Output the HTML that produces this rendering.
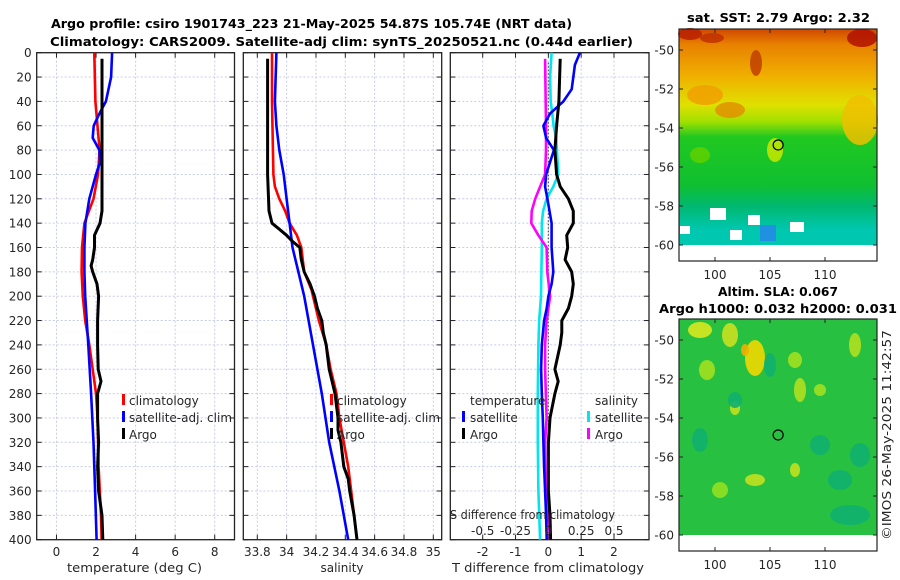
<!DOCTYPE html>
<html><head><meta charset="utf-8"><style>
html,body{margin:0;padding:0;background:#fff;}
svg{display:block;font-family:"DejaVu Sans","Liberation Sans",sans-serif;}
.tk{font-size:12px;fill:#262626;}
.tt{font-size:12px;font-weight:bold;fill:#000;}
.grid{stroke:#c8cce8;stroke-width:1;stroke-dasharray:2,2;}
</style></head><body>
<svg id="fig" width="900" height="580" viewBox="0 0 900 580" xmlns="http://www.w3.org/2000/svg">
<text class="tt" x="51" y="28" textLength="521" lengthAdjust="spacingAndGlyphs">Argo profile: csiro 1901743_223 21-May-2025 54.87S 105.74E (NRT data)</text>
<text class="tt" x="50" y="46" textLength="583" lengthAdjust="spacingAndGlyphs">Climatology: CARS2009. Satellite-adj clim: synTS_20250521.nc (0.44d earlier)</text>
<g id="p1"></g>
<g id="p2"></g>
<g id="p3"></g>
<g id="m1"></g>
<g id="m2"></g>
</svg>
<script>
// ---------- data ----------
const tClimDepth = [0,40,80,100,120,140,160,180,200,220,240,260,280,300,340,380,400];
const tClim      = [1.91,1.97,2.18,2.1,1.87,1.41,1.29,1.27,1.33,1.45,1.66,1.83,2.0,2.08,2.13,2.25,2.28];
const tSatDepth  = [0,20,40,50,60,70,80,90,100,120,140,160,180,200,240,280,320,360,400];
const tSat       = [2.81,2.76,2.5,2.17,1.88,1.83,2.17,2.2,2.0,1.66,1.46,1.41,1.41,1.45,1.61,1.75,1.87,1.95,2.03];
const tArgoDepth = [5,40,100,130,140,150,160,170,175,180,190,200,220,240,260,270,280,300,320,340,360,380,400];
const tArgo      = [2.3,2.3,2.3,2.3,2.2,1.92,1.92,1.83,1.75,1.83,2.05,2.13,2.08,2.08,2.11,2.25,2.08,2.08,2.13,2.08,2.13,2.3,2.34];

const sClimDepth = [0,40,100,110,120,130,140,150,160,180,195,200,220,240,260,280,300,320,340,360,380,400];
const sClim      = [33.90,33.90,33.91,33.92,33.95,33.99,34.02,34.07,34.10,34.12,34.17,34.18,34.22,34.27,34.30,34.34,34.36,34.39,34.42,34.44,34.46,34.48];
const sSatDepth  = [0,40,60,80,100,120,140,160,180,200,240,280,320,360,400];
const sSat       = [33.93,33.92,33.93,33.95,33.98,34.0,34.02,34.04,34.08,34.12,34.18,34.24,34.29,34.36,34.42];
const sArgoDepth = [5,100,130,140,145,150,155,160,170,180,190,200,210,220,230,240,260,270,280,290,300,310,320,340,350,360,380,400];
const sArgo      = [33.87,33.87,33.88,33.90,33.95,34.0,34.04,34.09,34.10,34.12,34.16,34.19,34.21,34.24,34.25,34.27,34.29,34.31,34.33,34.34,34.35,34.35,34.37,34.39,34.42,34.43,34.46,34.48];

const dTSatDepth = [0,10,30,40,50,60,70,80,90,100,110,120,140,160,180,190,200,210,220,240,260,280,300,320,340,360,380,400];
const dTSat      = [0.96,0.81,0.71,0.46,0.05,-0.15,-0.07,0.17,0.05,-0.07,-0.1,-0.03,0.1,0.1,0.15,0.1,0,-0.05,-0.13,-0.2,-0.22,-0.2,-0.17,-0.15,-0.13,-0.1,-0.07,-0.05];
const dTArgoDepth= [5,40,60,80,100,110,120,130,140,150,160,170,180,190,200,210,220,230,240,260,270,280,300,320,340,360,380,400];
const dTArgo     = [0.36,0.32,0.25,0.2,0.25,0.36,0.61,0.76,0.76,0.56,0.59,0.51,0.71,0.76,0.71,0.61,0.41,0.41,0.36,0.2,0.3,0.2,0.05,0,0,0,0.05,0.07];
const dSSatDepth = [0,20,40,50,60,70,100,110,120,130,140,160,200,220,240,280,320,360,400];
const dSSat      = [0.025,0.013,0.018,0.03,0.04,0.06,0.076,0.038,-0.013,-0.04,-0.05,-0.05,-0.056,-0.07,-0.076,-0.08,-0.08,-0.076,-0.063];
const dSArgoDepth= [5,60,80,100,110,120,130,140,150,160,180,200,220,240,260,300,320,360,380,400];
const dSArgo     = [-0.025,-0.018,-0.018,-0.025,-0.063,-0.1,-0.127,-0.13,-0.076,-0.013,-0.008,0.013,-0.013,-0.025,-0.025,-0.013,-0.025,-0.018,0,0.013];

const depthTicks = [0,20,40,60,80,100,120,140,160,180,200,220,240,260,280,300,320,340,360,380,400];
const tTicks = [0,2,4,6,8];
const sTicks = [33.8,34,34.2,34.4,34.6,34.8,35];
const sTickLabels = ["33.8","34","34.2","34.4","34.6","34.8","35"];
const dTTicks = [-2,-1,0,1,2];
const dSTicks = [-0.5,-0.25,0,0.25,0.5];
const latTicks = [-50,-52,-54,-56,-58,-60];
const lonTicks = [100,105,110];
const argoLon = 105.74, argoLat = -54.87;

// ---------- helpers ----------
const NS="http://www.w3.org/2000/svg";
function mk(tag,attrs,parent){const e=document.createElementNS(NS,tag);for(const k in attrs)e.setAttribute(k,attrs[k]);parent.appendChild(e);return e;}
const Y0=52.7,Y1=539.7;
const yD=d=>Y0+(d/400)*(Y1-Y0);
function lin(d0,d1,r0,r1){return v=>r0+(v-d0)/(d1-d0)*(r1-r0);}

function panel(g,x0,x1,xs,ticks,labels,ylabels){
  for(const t of ticks){const l=mk('line',{x1:xs(t),x2:xs(t),y1:Y0,y2:Y1,class:'grid'},g);
    
    }
  for(const d of depthTicks){const l=mk('line',{x1:x0,x2:x1,y1:yD(d),y2:yD(d),class:'grid'},g);
    
    
    mk('line',{x1:x0,x2:x0+5,y1:yD(d),y2:yD(d),stroke:'#222'},g);
    mk('line',{x1:x1-5,x2:x1,y1:yD(d),y2:yD(d),stroke:'#222'},g);
    if(ylabels){const t=mk('text',{x:x0-5,y:yD(d)+4.5,'text-anchor':'end',class:'tk'},g);t.textContent=d;
      
      }}
  ticks.forEach((t,i)=>{mk('line',{x1:xs(t),x2:xs(t),y1:Y1,y2:Y1-5,stroke:'#222'},g);
    mk('line',{x1:xs(t),x2:xs(t),y1:Y0,y2:Y0+5,stroke:'#222'},g);
    if(labels){const e=mk('text',{x:xs(t),y:556,'text-anchor':'middle',class:'tk'},g);e.textContent=labels[i];
      
      }});
  const r=mk('rect',{x:x0,y:Y0,width:x1-x0,height:Y1-Y0,fill:'none',stroke:'#222','stroke-width':1.3},g);
  
  
}
function line(g,xs,vals,depths,color,name,w){
  const p=vals.map((v,i)=>xs(v).toFixed(1)+','+yD(depths[i]).toFixed(1)).join(' ');
  const e=mk('polyline',{points:p,fill:'none',stroke:color,'stroke-width':w||2.6,'stroke-linejoin':'round'},g);
  
  
}
function txt(g,x,y,s,name,extra){const e=mk('text',Object.assign({x:x,y:y,class:'tk'},extra||{}),g);e.textContent=s;
  
  return e;}
function legMark(g,x,y,c){mk('rect',{x:x,y:y-11,width:3,height:11,fill:c},g);}

// ---------- panel 1 ----------
const p1=document.getElementById('p1');
const xT=lin(-1,9,36.7,234.5);
panel(p1,36.7,234.5,xT,tTicks,tTicks.map(String),true);
line(p1,xT,tClim,tClimDepth,'#ff0000','temperature-climatology-line');
line(p1,xT,tSat,tSatDepth,'#0000ff','temperature-satellite-line');
line(p1,xT,tArgo,tArgoDepth,'#000000','temperature-argo-line',3);
txt(p1,67,572,'temperature (deg C)','x-axis-title',{textLength:135,lengthAdjust:'spacingAndGlyphs'});
legMark(p1,122,405,'#ff0000');txt(p1,129,405,'climatology','legend-climatology');
legMark(p1,122,422,'#0000ff');txt(p1,129,422,'satellite-adj. clim','legend-satellite');
legMark(p1,122,439,'#000');txt(p1,129,439,'Argo','legend-argo');

// ---------- panel 2 ----------
const p2=document.getElementById('p2');
const xS=lin(33.8,35,257.3,433.3);
panel(p2,243.3,441.7,xS,sTicks,sTickLabels,false);
line(p2,xS,sClim,sClimDepth,'#ff0000','salinity-climatology-line');
line(p2,xS,sSat,sSatDepth,'#0000ff','salinity-satellite-line');
line(p2,xS,sArgo,sArgoDepth,'#000000','salinity-argo-line',3);
txt(p2,342,572,'salinity','x-axis-title',{'text-anchor':'middle'});
legMark(p2,330,405,'#ff0000');txt(p2,337,405,'climatology','legend-climatology');
legMark(p2,330,422,'#0000ff');txt(p2,337,422,'satellite-adj. clim','legend-satellite');
legMark(p2,330,439,'#000');txt(p2,337,439,'Argo','legend-argo');

// ---------- panel 3 ----------
const p3=document.getElementById('p3');
const xDT=lin(-2,2,482.7,614);
const xDS=lin(-0.5,0.5,482.7,614);
panel(p3,450.3,649,xDT,dTTicks,dTTicks.map(String),false);
mk('line',{x1:xDT(0),x2:xDT(0),y1:Y0+10,y2:Y1,stroke:'#555','stroke-dasharray':'1.5,2','stroke-width':1.2},p3);
line(p3,xDS,dSSat,dSSatDepth,'#00e5ee','salinity-diff-satellite-line');
line(p3,xDS,dSArgo,dSArgoDepth,'#ff00ff','salinity-diff-argo-line');
line(p3,xDT,dTSat,dTSatDepth,'#0000ff','temperature-diff-satellite-line');
line(p3,xDT,dTArgo,dTArgoDepth,'#000000','temperature-diff-argo-line',3);
txt(p3,452,572,'T difference from climatology','x-axis-title',{textLength:192,lengthAdjust:'spacingAndGlyphs'});
txt(p3,450,519,'S difference from climatology','s-axis-title',{textLength:165,lengthAdjust:'spacingAndGlyphs'});
dSTicks.forEach(t=>txt(p3,xDS(t),535,String(t),'s-tick-label',{'text-anchor':'middle'}));
txt(p3,470,405,'temperature','legend-temperature-header');
legMark(p3,462,422,'#0000ff');txt(p3,470,422,'satellite','legend-temp-satellite');
legMark(p3,462,439,'#000');txt(p3,470,439,'Argo','legend-temp-argo');
txt(p3,595,405,'salinity','legend-salinity-header');
legMark(p3,587,422,'#00e5ee');txt(p3,595,422,'satellite','legend-sal-satellite');
legMark(p3,587,439,'#ff00ff');txt(p3,595,439,'Argo','legend-sal-argo');

// ---------- maps ----------
function mapAxes(g,top,bot){
  const x0=679,x1=877;
  const xl=lin(100,110,715,825);
  const yl=lin(-50,-60,top+21,top+216);
  return {x0,x1,xl,yl,finish:function(){
    mk('rect',{x:x0,y:yl(-60),width:x1-x0,height:bot-yl(-60),fill:'#fff'},g);
    mk('circle',{cx:xl(argoLon),cy:yl(argoLat),r:5,fill:'none',stroke:'#000','stroke-width':1.2},g);
    const r=mk('rect',{x:x0,y:top,width:x1-x0,height:bot-top,fill:'none',stroke:'#222','stroke-width':1.2},g);
    
    
    for(const t of latTicks){mk('line',{x1:x0,x2:x0+4,y1:yl(t),y2:yl(t),stroke:'#222'},g);
      mk('line',{x1:x1-4,x2:x1,y1:yl(t),y2:yl(t),stroke:'#222'},g);
      txt(g,x0-5,yl(t)+4.5,String(t),'lat-tick-label',{'text-anchor':'end'});}
    for(const t of lonTicks){mk('line',{x1:xl(t),x2:xl(t),y1:bot,y2:bot-4,stroke:'#222'},g);
      mk('line',{x1:xl(t),x2:xl(t),y1:top,y2:top+4,stroke:'#222'},g);
      txt(g,xl(t),bot+18,String(t),'lon-tick-label',{'text-anchor':'middle'});}
  }};
}
// SST map
const m1=document.getElementById('m1');
const defs=mk('defs',{},m1);
const gr=mk('linearGradient',{id:'sstg',x1:0,y1:0,x2:0,y2:1},defs);
[[0,'#d04800'],[0.07,'#e88000'],[0.22,'#f0b000'],[0.35,'#e0e000'],[0.43,'#a0e000'],[0.5,'#20c820'],[0.72,'#10c030'],[0.82,'#00b870'],[0.93,'#00c8b0'],[1,'#00c8b0']].forEach(s=>mk('stop',{offset:s[0],'stop-color':s[1]},gr));
const a1=mapAxes(m1,29,261);
const t1=txt(m1,687,22,'sat. SST: 2.79 Argo: 2.32','sst-map-title',{textLength:183,lengthAdjust:'spacingAndGlyphs'});t1.setAttribute('class','tt');
mk('rect',{x:679,y:29,width:198,height:216,fill:'url(#sstg)'},m1);
[[862,38,15,9,'#b01000'],[690,34,12,6,'#b82000'],[712,38,12,5,'#c03000'],[756,63,6,13,'#c04000'],[705,95,18,10,'#f0a000'],[860,120,18,25,'#f0c000'],[730,110,15,8,'#e09000'],[775,150,8,12,'#c8e800'],[700,155,10,8,'#60d000']].forEach(b=>mk('ellipse',{cx:b[0],cy:b[1],rx:b[2],ry:b[3],fill:b[4],opacity:0.85},m1));
[[710,208,16,12],[748,215,12,10],[790,222,14,10],[730,230,12,10],[680,226,10,8]].forEach(b=>mk('rect',{x:b[0],y:b[1],width:b[2],height:b[3],fill:'#fff'},m1));
mk('rect',{x:760,y:225,width:16,height:16,fill:'#2090e0'},m1);
a1.finish();
// SLA map
const m2=document.getElementById('m2');
const t2a=txt(m2,718,296,'Altim. SLA: 0.067','sla-map-title',{textLength:120,lengthAdjust:'spacingAndGlyphs'});t2a.setAttribute('class','tt');
const t2b=txt(m2,659,313,'Argo h1000: 0.032 h2000: 0.031','sla-map-subtitle',{textLength:238,lengthAdjust:'spacingAndGlyphs'});t2b.setAttribute('class','tt');
mk('rect',{x:679,y:319,width:198,height:216,fill:'#28c040'},m2);
[[700,330,12,8,'#d8e820'],[730,335,8,12,'#c8e020'],[755,358,10,18,'#f0d800'],[745,350,4,6,'#f0b000'],[707,370,8,10,'#a0e020'],[800,390,6,12,'#b0e020'],[795,360,7,8,'#a0e020'],[735,408,5,7,'#c0e020'],[820,390,6,6,'#a0e020'],[795,470,5,7,'#c0e020'],[755,480,10,6,'#c0e020'],[855,345,6,12,'#b0e020'],[720,490,8,8,'#90e020']].forEach(b=>mk('ellipse',{cx:b[0],cy:b[1],rx:b[2],ry:b[3],fill:b[4],opacity:0.9},m2));
[[770,365,6,12],[820,445,10,10],[840,480,12,10],[860,455,10,12],[850,515,20,10],[700,440,8,12],[735,400,7,8]].forEach(b=>mk('ellipse',{cx:b[0],cy:b[1],rx:b[2],ry:b[3],fill:'#10b070',opacity:0.9},m2));
const a2=mapAxes(m2,319,551);a2.finish();
const cr=mk('text',{x:0,y:0,class:'tk',textLength:210,lengthAdjust:'spacingAndGlyphs',transform:'translate(891,540) rotate(-90)'},m2);cr.textContent='©IMOS 26-May-2025 11:42:57';


</script>
</body></html>
